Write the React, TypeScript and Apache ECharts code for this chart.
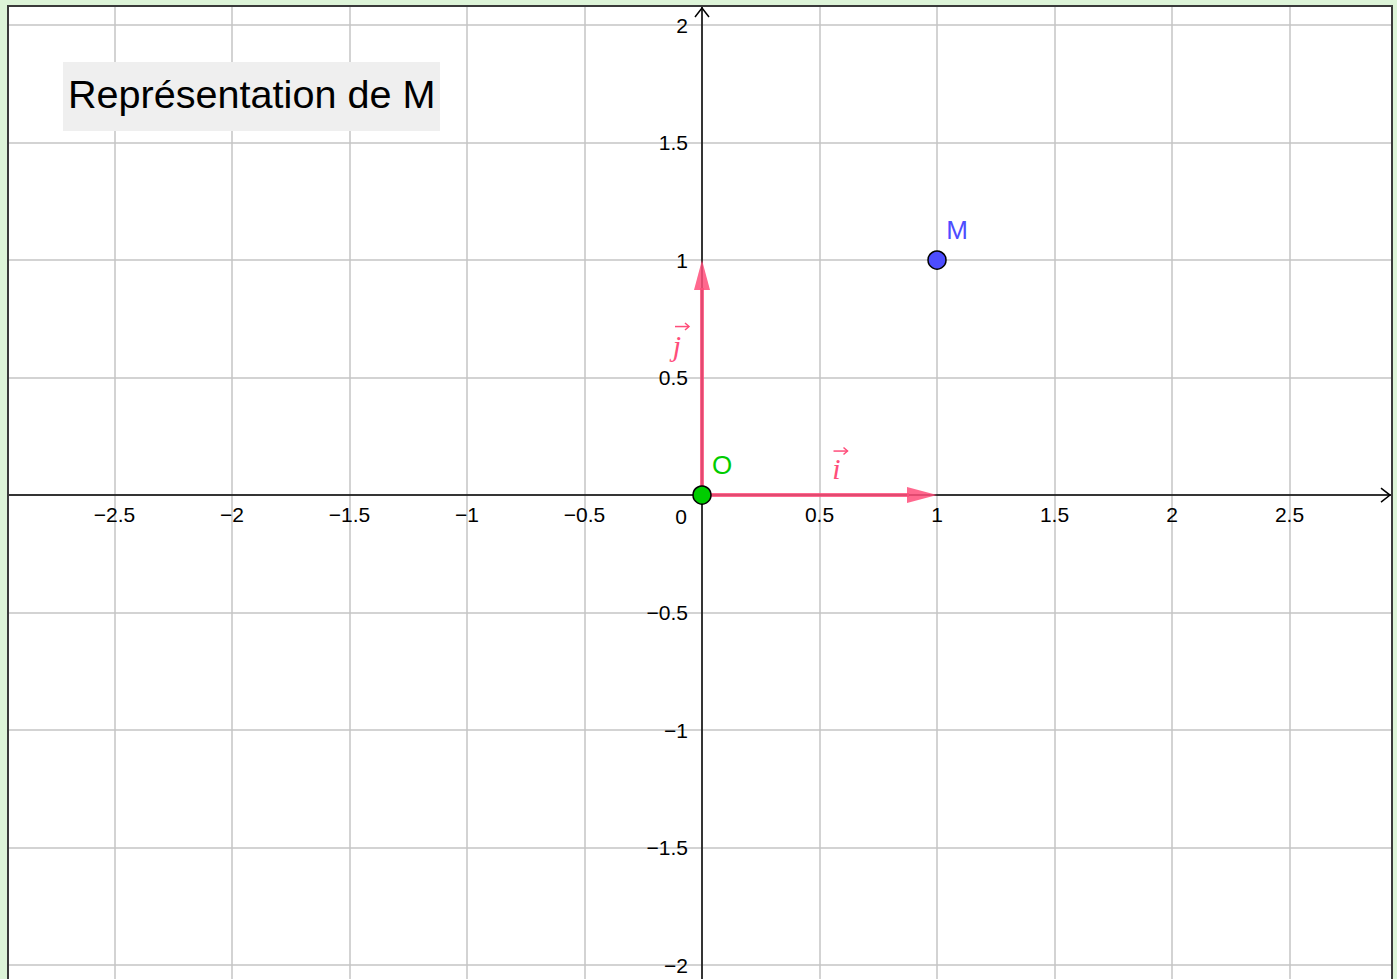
import React, { useEffect, useRef } from "react";
import * as echarts from "echarts";

// ---- data ----
const xRange = [-2.953, 2.936];
const yRange = [-2.072, 2.081];
const tickStep = 0.5;

const pointNames = ["O", "M"];
const pointX = [0, 1];
const pointY = [0, 1];

const vectorNames = ["i", "j"];
const vectorFromX = [0, 0];
const vectorFromY = [0, 0];
const vectorToX = [1, 0];
const vectorToY = [0, 1];

const titleText = "Représentation de M";

// ---- styles ----
const pointColors = ["#00cc00", "#4d4dff"];
const vecColor = "#ff4d7a";
const vecLabelOffsets = [
  [17, -27],
  [-25, -32],
];
const arrowOffsets = [
  [4, -17],
  [5, -19],
];
const sans = '"Liberation Sans", Arial, Helvetica, sans-serif';
const serif = '"Liberation Serif", "Times New Roman", serif';

function fmt(v: number): string {
  if (Math.abs(v) < 1e-9) return "";
  const r = Math.round(v / tickStep) * tickStep;
  if (Math.abs(r - v) > 1e-6) return "";
  return (r < 0 ? "\u2212" : "") + String(Math.abs(r));
}

export default function App() {
  const ref = useRef<HTMLDivElement>(null);
  useEffect(() => {
    const el = ref.current as HTMLDivElement;
    const chart = echarts.init(el, null, { renderer: "svg" });

    const axisCommon = {
      type: "value",
      minInterval: tickStep,
      maxInterval: tickStep,
      splitNumber: 12,
      axisLine: { show: true, onZero: false, lineStyle: { color: "#000", width: 1.5 } },
      axisTick: { show: false },
      splitLine: {
        show: true,
        showMinLine: false,
        showMaxLine: false,
        lineStyle: { color: "#c4c4c4", width: 1.5 },
      },
      axisLabel: {
        showMinLabel: false,
        showMaxLabel: false,
        hideOverlap: false,
        color: "#000",
        fontSize: 21,
        fontFamily: sans,
        formatter: (v: number) => fmt(v),
      },
    };

    const option: any = {
      animation: false,
      backgroundColor: "transparent",
      grid: {
        left: 8,
        right: 5,
        top: 6,
        bottom: -3,
        show: true,
        backgroundColor: "#ffffff",
        borderWidth: 0,
        containLabel: false,
        outerBoundsMode: "none",
      },
      xAxis: {
        ...axisCommon,
        position: "bottom",
        min: xRange[0],
        max: xRange[1],
        axisLabel: { ...axisCommon.axisLabel, margin: 9 },
      },
      yAxis: {
        ...axisCommon,
        position: "left",
        min: yRange[0],
        max: yRange[1],
        axisLabel: { ...axisCommon.axisLabel, margin: 14 },
      },
      series: [
        {
          type: "custom",
          coordinateSystem: "cartesian2d",
          z: 3,
          encode: { x: [0, 2], y: [1, 3] },
          data: vectorNames.map((_, i) => [vectorFromX[i], vectorFromY[i], vectorToX[i], vectorToY[i]]),
          renderItem: (params: any, api: any) => {
            const p0 = api.coord([api.value(0), api.value(1)]);
            const p1 = api.coord([api.value(2), api.value(3)]);
            const dx = p1[0] - p0[0];
            const dy = p1[1] - p0[1];
            const len = Math.hypot(dx, dy) || 1;
            const ux = dx / len;
            const uy = dy / len;
            const nx = uy;
            const ny = -ux;
            const headLen = 30;
            const headHalf = 8;
            const bx = p1[0] - ux * headLen;
            const by = p1[1] - uy * headLen;
            const idx = params.dataIndex;
            const off = vecLabelOffsets[idx];
            const ao = arrowOffsets[idx];
            const mx = (p0[0] + p1[0]) / 2 + off[0];
            const my = (p0[1] + p1[1]) / 2 + off[1];
            const ax = mx + ao[0];
            const ay = my + ao[1];
            return {
              type: "group",
              children: [
                {
                  type: "line",
                  shape: { x1: p0[0], y1: p0[1], x2: bx + ux * 2, y2: by + uy * 2 },
                  style: { stroke: vecColor, lineWidth: 4, opacity: 0.85 },
                },
                {
                  type: "polygon",
                  shape: {
                    points: [
                      [p1[0], p1[1]],
                      [bx + nx * headHalf, by + ny * headHalf],
                      [bx - nx * headHalf, by - ny * headHalf],
                    ],
                  },
                  style: { fill: vecColor, opacity: 0.85 },
                },
                {
                  type: "text",
                  x: mx,
                  y: my,
                  style: {
                    text: vectorNames[idx],
                    fill: vecColor,
                    fontSize: 30,
                    fontFamily: serif,
                    fontStyle: "italic",
                    align: "center",
                    verticalAlign: "middle",
                    textAlign: "center",
                    textVerticalAlign: "middle",
                  },
                },
                {
                  type: "line",
                  shape: { x1: ax - 7, y1: ay, x2: ax + 7, y2: ay },
                  style: { stroke: vecColor, lineWidth: 1.5 },
                },
                {
                  type: "polyline",
                  shape: { points: [[ax + 3, ay - 3.5], [ax + 7, ay], [ax + 3, ay + 3.5]] },
                  style: { stroke: vecColor, lineWidth: 1.5, fill: null },
                },
              ],
            };
          },
        },
        {
          type: "scatter",
          z: 5,
          symbol: "circle",
          symbolSize: 18,
          data: pointNames.map((n, i) => ({
            name: n,
            value: [pointX[i], pointY[i]],
            itemStyle: { color: pointColors[i], borderColor: "#000", borderWidth: 1.5, opacity: 1 },
            label: { color: pointColors[i] },
          })),
          label: {
            show: true,
            formatter: "{b}",
            position: "top",
            distance: 5,
            offset: [20, -2],
            fontSize: 26,
            fontFamily: sans,
          },
        },
      ],
    };

    chart.setOption(option);

    const px = (p: number[]) => chart.convertToPixel({ gridIndex: 0 }, p) as number[];
    const o = px([0, 0]);
    const tl = px([xRange[0], yRange[1]]);
    const br = px([xRange[1], yRange[0]]);
    const xTip = br[0] - 2;
    const yTip = tl[1] + 2;

    chart.setOption({
      xAxis: { offset: o[1] - br[1] },
      yAxis: { offset: tl[0] - o[0] },
      graphic: [
        {
          type: "rect",
          z: 50,
          shape: { x: 63, y: 62, width: 377, height: 69 },
          style: { fill: "#efefef" },
        },
        {
          type: "text",
          z: 51,
          x: 68,
          y: 94,
          style: {
            text: titleText,
            fill: "#000",
            fontSize: 39.6,
            fontFamily: sans,
            verticalAlign: "middle",
            textVerticalAlign: "middle",
          },
        },
        {
          type: "text",
          z: 51,
          x: o[0] - 21,
          y: o[1] + 21,
          style: {
            text: "0",
            fill: "#000",
            fontSize: 21,
            fontFamily: sans,
            align: "center",
            verticalAlign: "middle",
            textAlign: "center",
            textVerticalAlign: "middle",
          },
        },
        {
          type: "polyline",
          z: 51,
          shape: { points: [[xTip - 9, o[1] - 7], [xTip, o[1]], [xTip - 9, o[1] + 7]] },
          style: { stroke: "#000", lineWidth: 1.5, fill: null },
        },
        {
          type: "polyline",
          z: 51,
          shape: { points: [[o[0] - 7, yTip + 9], [o[0], yTip], [o[0] + 7, yTip + 9]] },
          style: { stroke: "#000", lineWidth: 1.5, fill: null },
        },
        {
          type: "polyline",
          z: 60,
          shape: {
            points: [
              [tl[0], br[1] + 30],
              [tl[0], tl[1]],
              [br[0], tl[1]],
              [br[0], br[1] + 30],
            ],
          },
          style: { stroke: "#3a3a3a", lineWidth: 2, fill: null },
        },
      ],
    });

    return () => chart.dispose();
  }, []);

  return (
    <div
      style={{
        position: "fixed",
        left: 0,
        top: 0,
        width: 1397,
        height: 979,
        background: "#ddf4d8",
        overflow: "hidden",
      }}
    >
      <div ref={ref} style={{ width: 1397, height: 979 }} />
    </div>
  );
}
